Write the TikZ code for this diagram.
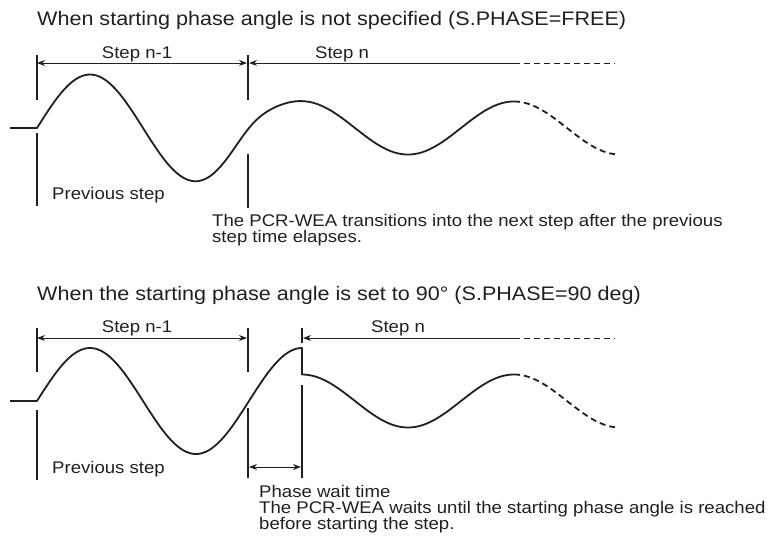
\documentclass[tikz,border=0pt]{standalone}
\usepackage{fontspec}
\setmainfont[FakeStretch=1.1]{Liberation Sans}
\usetikzlibrary{arrows.meta}
\definecolor{ink}{HTML}{231F20}
\begin{document}
\begin{tikzpicture}[x=1pt,y=-1pt,
  txt/.style={font=\fontsize{16.9}{16}\selectfont, text=ink, inner sep=0pt, anchor=base west},
  lab/.style={font=\fontsize{16.9}{16}\selectfont, text=ink, inner sep=0pt, anchor=base},
  ttl/.style={font=\fontsize{19.6}{20}\selectfont, text=ink, inner sep=0pt, anchor=base west},
  dim/.style={draw=ink, line width=0.9pt},
  dimdash/.style={dim, dash pattern=on 6pt off 4pt},
  tickline/.style={draw=ink, line width=1.1pt},
  wave/.style={draw=ink, line width=1.8pt, line join=round, line cap=butt},
  dwave/.style={wave, dash pattern=on 6pt off 4pt},
  tipboth/.style={{Stealth[length=8pt,width=6pt]}-{Stealth[length=8pt,width=6pt]}},
  tipleft/.style={{Stealth[length=8pt,width=6pt]}-}
]
\useasboundingbox (0,0) rectangle (769,542);

% ---------------- top diagram ----------------
\node[ttl] (title1) at (37,25) {When starting phase angle is not specified (S.PHASE=FREE)};
\node[lab] (lab1a) at (137,58) {Step n-1};
\node[lab] (lab1b) at (342,58) {Step n};

\coordinate (A1t) at (37,55);  \coordinate (A1b) at (37,100);
\coordinate (B1t) at (248,55); \coordinate (B1b) at (248,100);
\coordinate (A1l) at (37,133); \coordinate (A1m) at (37,206);
\coordinate (B1l) at (248,154); \coordinate (B1m) at (248,208);
\draw[tickline] (A1t) -- (A1b);
\draw[tickline] (B1t) -- (B1b);
\draw[tickline] (A1l) -- (A1m);
\draw[tickline] (B1l) -- (B1m);

\coordinate (D1a) at (37,63);  \coordinate (D1b) at (247,63);
\coordinate (D1c) at (249,63); \coordinate (D1d) at (514,63);
\coordinate (D1e) at (615,63);
\draw[dim, tipboth] (D1a) -- (D1b);
\draw[dim, tipleft] (D1c) -- (D1d);
\draw[dimdash] (D1d) -- (D1e);

\coordinate (W1s) at (10,128);
\draw[wave] (W1s) -- (37,128)
  -- plot[domain=37:514, samples=260]
     (\x,{128-(26.5+27/(1+exp((max(min(\x,330),170)-251)/12)))*sin((\x-37)/212*360)});
\draw[dwave] plot[domain=514:615, samples=60] (\x,{128-26.5*sin((\x-249)/212*360)});

\node[txt] (prev1) at (52,199) {Previous step};
\node[txt] (note1a) at (212,226) {The PCR-WEA transitions into the next step after the previous};
\node[txt] (note1b) at (212,242) {step time elapses.};

% ---------------- bottom diagram ----------------
\node[ttl] (title2) at (37,300) {When the starting phase angle is set to 90° (S.PHASE=90 deg)};
\node[lab] (lab2a) at (137,332) {Step n-1};
\node[lab] (lab2b) at (398,332) {Step n};

\coordinate (A2t) at (37,328);  \coordinate (A2b) at (37,372);
\coordinate (B2t) at (248,328); \coordinate (B2b) at (248,372);
\coordinate (C2t) at (302,328); \coordinate (C2b) at (302,343);
\coordinate (A2l) at (37,410);  \coordinate (A2m) at (37,480);
\coordinate (B2l) at (248,408); \coordinate (B2m) at (248,478);
\coordinate (C2l) at (302,385); \coordinate (C2m) at (302,478);
\draw[tickline] (A2t) -- (A2b);
\draw[tickline] (B2t) -- (B2b);
\draw[tickline] (C2t) -- (C2b);
\draw[tickline] (A2l) -- (A2m);
\draw[tickline] (B2l) -- (B2m);
\draw[tickline] (C2l) -- (C2m);

\coordinate (D2a) at (37,338);  \coordinate (D2b) at (247,338);
\coordinate (D2c) at (303,338); \coordinate (D2d) at (514,338);
\coordinate (D2e) at (615,338);
\draw[dim, tipboth] (D2a) -- (D2b);
\draw[dim, tipleft] (D2c) -- (D2d);
\draw[dimdash] (D2d) -- (D2e);

\coordinate (P2a) at (249,467); \coordinate (P2b) at (301,467);
\draw[dim, tipboth] (P2a) -- (P2b);

\coordinate (W2s) at (10,401);
\draw[wave] (W2s) -- (37,401)
  -- plot[domain=37:302, samples=150] (\x,{401-53*sin((\x-37)/212*360)})
  -- (302,374.5)
  -- plot[domain=302:514, samples=120] (\x,{401-26.5*cos((\x-302)/212*360)});
\draw[dwave] plot[domain=514:615, samples=60] (\x,{401-26.5*cos((\x-302)/212*360)});

\node[txt] (prev2) at (52,473) {Previous step};
\node[txt] (wait1) at (259,497) {Phase wait time};
\node[txt] (wait2) at (259,513) {The PCR-WEA waits until the starting phase angle is reached};
\node[txt] (wait3) at (259,529) {before starting the step.};
\end{tikzpicture}
\end{document}
